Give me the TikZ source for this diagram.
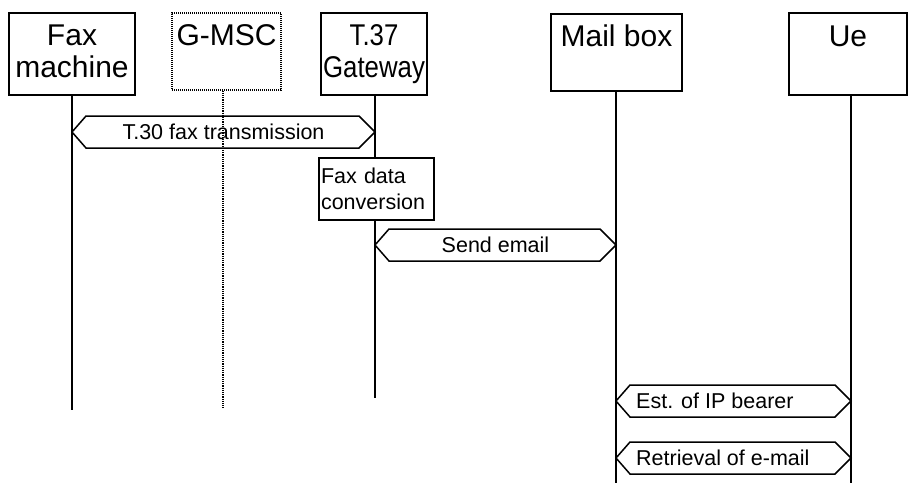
\documentclass[tikz,border=0pt]{standalone}
\usepackage{fontspec}
\setmainfont{Liberation Sans}
\usetikzlibrary{calc}

\tikzset{
    entity/.style={draw, line width=1.7pt, inner sep=0pt},
    entitytext/.style={anchor=base, align=center, inner sep=0pt, font=\fontsize{30}{32}\selectfont},
    lifeline/.style={line width=2pt},
    msg/.style={line width=1.5pt, line join=miter},
    msgtext/.style={inner sep=0pt, font=\fontsize{21.5}{25}\selectfont},
    convbox/.style={draw, fill=white, line width=1.5pt, align=left, text width=111pt,
        inner sep=2pt, minimum height=62pt, font=\fontsize{21.5}{26}\selectfont},
}

\begin{document}
\begin{tikzpicture}[x=1pt,y=-1pt]
    \useasboundingbox (0,0) rectangle (908,483);

    % Entities
    \node[entity, minimum width=126pt, minimum height=82pt] (fax) at (72,54) {};
    \node[entity, dash pattern=on 1pt off 1pt, line width=1.2pt, minimum width=109pt, minimum height=77pt] (gmsc) at (226.5,51.5) {};
    \node[entity, minimum width=106pt, minimum height=82pt] (gw) at (374,54) {};
    \node[entity, minimum width=131pt, minimum height=77pt] (mbox) at (616.5,52.5) {};
    \node[entity, minimum width=118pt, minimum height=82pt] (ue) at (848,54) {};

    % base of a two-line text is its last line
    \node[entitytext] (faxtxt) at ([yshift=-65pt]fax.north) {Fax\\machine};
    \node[entitytext] (gmsctxt) at ([yshift=-33pt]gmsc.north) {G-MSC};
    \node[entitytext, xscale=0.86, transform shape] (gwtxt) at ([yshift=-65pt]gw.north) {T.37\\Gateway};
    \node[entitytext] (mboxtxt) at ([yshift=-33pt]mbox.north) {Mail box};
    \node[entitytext] (uetxt) at ([yshift=-34pt]ue.north) {Ue};

    % Lifelines
    \coordinate (faxend) at (72,410);
    \coordinate (gmscend) at (223,408);
    \coordinate (gwend) at (375,398);
    \coordinate (mboxend) at (616,483);
    \coordinate (ueend) at (851,483);

    \draw[lifeline] (fax.south) -- (faxend);
    \draw[lifeline, line width=1.4pt, dash pattern=on 1.2pt off 1pt] (gmsc.south -| gmscend) -- (gmscend);
    \draw[lifeline] (gw.south -| gwend) -- (gwend);
    \draw[lifeline] (mbox.south -| mboxend) -- (mboxend);
    \draw[lifeline] (ue.south -| ueend) -- (ueend);

    % Messages
    \foreach \nm/\xl/\xr/\y in {tthirty/72/375/132, send/375/616/245, est/616/851/401, retr/616/851/458} {
        \coordinate (\nm-l) at (\xl,\y);
        \coordinate (\nm-r) at (\xr,\y);
        \draw[msg] (\nm-l) -- ($(\nm-l)+(14,-16)$) -- ($(\nm-r)+(-16,-16)$) -- (\nm-r)
            -- ($(\nm-r)+(-16,16)$) -- ($(\nm-l)+(14,16)$) -- cycle;
    }

    \node[msgtext] (tthirtytxt) at ($(tthirty-l)!0.5!(tthirty-r)$) {T.30 fax transmission};
    \node[msgtext] (sendtxt) at ($(send-l)!0.5!(send-r)$) {Send email};
    \node[msgtext, anchor=west] (esttxt) at ($(est-l)+(20,0)$) {Est. of IP bearer};
    \node[msgtext, anchor=west] (retrtxt) at ($(retr-l)+(20,0)$) {Retrieval of e-mail};

    % Conversion in gateway
    \node[convbox] (conv) at (376.5,189) {Fax data\\conversion};
\end{tikzpicture}
\end{document}
